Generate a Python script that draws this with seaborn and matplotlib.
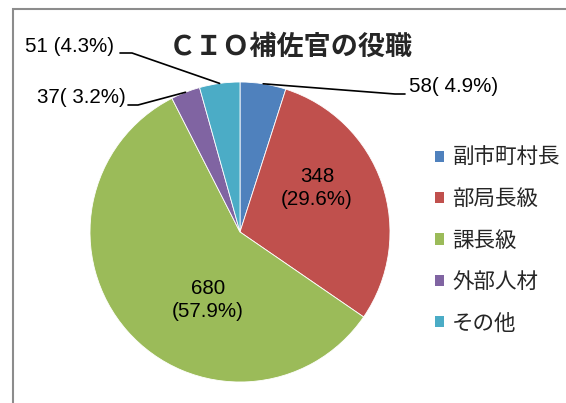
import matplotlib
matplotlib.use("Agg")
import matplotlib.pyplot as plt
import numpy as np
import seaborn as sns
from matplotlib.patches import Rectangle, Patch
from matplotlib.lines import Line2D

# data
categories = ["副市町村長", "部局長級", "課長級", "外部人材", "その他"]
counts = [58, 348, 680, 37, 51]
labels_text = ["58( 4.9%)", "348\n(29.6%)", "680\n(57.9%)", "37( 3.2%)", "51 (4.3%)"]
colors = ["#4F81BD", "#C0504D", "#9BBB59", "#8064A2", "#4BACC6"]
title = "ＣＩＯ補佐官の役職"

sns.set_theme(style="white")
plt.rcParams["font.family"] = ["Liberation Sans", "Noto Sans CJK JP", "DejaVu Sans"]

W, H = 566, 403
fig = plt.figure(figsize=(W / 100, H / 100), dpi=100)

# pie centre / radius in pixels
cx, cy, R = 240, 232, 150
ax = fig.add_axes([(cx - R) / W, (H - cy - R) / H, 2 * R / W, 2 * R / H])
palette = sns.color_palette(colors)
wedges, _ = ax.pie(counts, colors=palette, startangle=90, counterclock=False,
                   radius=1, wedgeprops=dict(edgecolor="white", linewidth=0.6))
ax.set_xlim(-1, 1)
ax.set_ylim(-1, 1)
ax.set_aspect("equal")
ax.axis("off")


def to_data(px, py):
    return (px - cx) / R, (cy - py) / R


def edge_point(w):
    ang = np.deg2rad((w.theta1 + w.theta2) / 2)
    return np.cos(ang), np.sin(ang)


fs = 14.8
# inside labels
for i, pos in [(1, (317, 188)), (2, (208, 300))]:
    x, y = to_data(*pos)
    ax.text(x, y, labels_text[i], ha="center", va="center", fontsize=fs,
            linespacing=1.25, color="black")

# outside labels with leader lines
outside = {
    0: dict(text=(409, 87), ha="left", path=[(395, 94), (405, 94)]),
    4: dict(text=(114, 47), ha="right", path=[(132, 53), (120, 53)]),
    3: dict(text=(126, 98), ha="right", path=[(138, 105), (128, 105)]),
}
for i, o in outside.items():
    sx, sy = edge_point(wedges[i])
    pts = [(sx, sy)] + [to_data(*p) for p in o["path"]]
    xs, ys = zip(*pts)
    ax.add_line(Line2D(xs, ys, color="black", lw=1.2, clip_on=False))
    tx, ty = to_data(*o["text"])
    ax.text(tx, ty, labels_text[i], ha=o["ha"], va="center", fontsize=fs,
            color="black", clip_on=False)

fig.text(291 / W, 1 - 47 / H, title, ha="center", va="center", fontsize=19.5,
         family=["Noto Sans CJK JP", "DejaVu Sans"], fontweight="bold")

handles = [Patch(facecolor=c, edgecolor="none") for c in palette]
leg = fig.legend(handles, categories, loc="upper left",
                 bbox_to_anchor=(435 / W, 1 - 147 / H), frameon=False,
                 prop=dict(family=["Noto Sans CJK JP", "DejaVu Sans"], size=15.5),
                 handlelength=0.42, handleheight=0.42, handletextpad=0.38,
                 labelspacing=0.9, borderaxespad=0, borderpad=0)

# outer chart frame
fig.add_artist(Rectangle((13 / W, -0.05), 1.1, 1 - 9.5 / H + 0.05,
                         transform=fig.transFigure, fill=False,
                         edgecolor="#8C8C8C", lw=1.5))

fig.savefig("out.png", dpi=100)
